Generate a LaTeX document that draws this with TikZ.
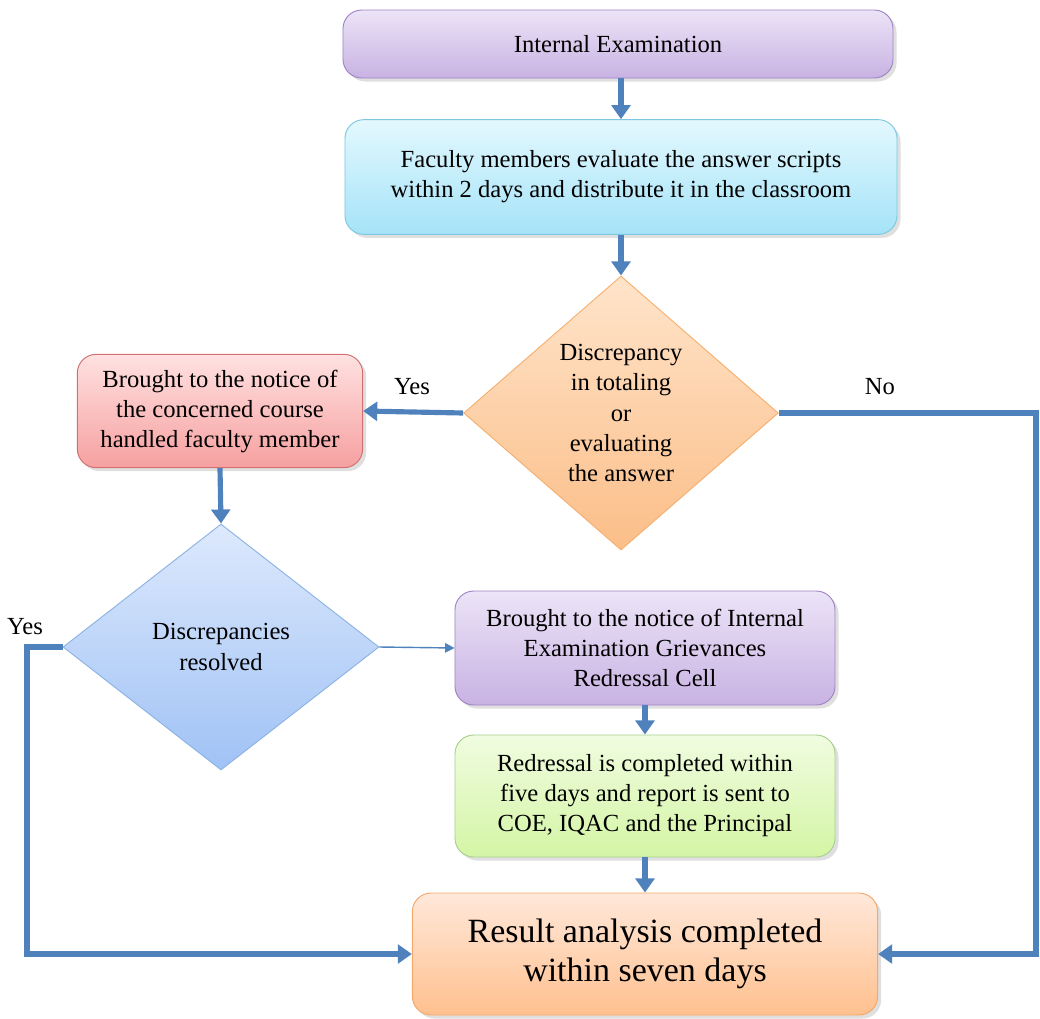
\documentclass[tikz,border=0pt]{standalone}
\usepackage{fontspec}
\setmainfont{Liberation Serif}
\newfontfamily\flowfont{Liberation Serif}
\usepackage{xcolor}
\definecolor{flowblue}{RGB}{ 79, 129, 189}
\definecolor{lilactop}{RGB}{236, 228, 247}
\definecolor{lilacbot}{RGB}{200, 178, 227}
\definecolor{lilacrim}{RGB}{160, 132, 196}
\definecolor{skytop}{RGB}{227, 248, 254}
\definecolor{skybot}{RGB}{165, 227, 248}
\definecolor{skyrim}{RGB}{124, 200, 224}
\definecolor{peachtop}{RGB}{255, 228, 202}
\definecolor{peachbot}{RGB}{251, 190, 136}
\definecolor{peachrim}{RGB}{245, 176, 112}
\definecolor{rosetop}{RGB}{255, 225, 225}
\definecolor{rosebot}{RGB}{246, 160, 160}
\definecolor{roserim}{RGB}{208, 112, 112}
\definecolor{icetop}{RGB}{221, 233, 253}
\definecolor{icebot}{RGB}{160, 194, 245}
\definecolor{icerim}{RGB}{141, 179, 226}
\definecolor{limetop}{RGB}{240, 252, 224}
\definecolor{limebot}{RGB}{212, 245, 165}
\definecolor{limerim}{RGB}{168, 208, 141}
\definecolor{apricottop}{RGB}{255, 232, 218}
\definecolor{apricotbot}{RGB}{255, 192, 142}
\definecolor{apricotrim}{RGB}{244, 168, 106}
\usepackage{tikz}
\usetikzlibrary{
  shapes.geometric, arrows.meta, positioning, shadows
}
\tikzset{
  stepbox/.style={rounded corners=8pt, align=center, inner sep=2pt,
    font=\flowfont\fontsize{10.5}{12.8}\selectfont,
    drop shadow={opacity=0.25, shadow xshift=1.5pt, shadow yshift=-1.5pt}},
  lilacbox/.style={stepbox, draw=lilacrim, top color=lilactop, bottom color=lilacbot},
  skybox/.style={stepbox, draw=skyrim, top color=skytop, bottom color=skybot},
  rosebox/.style={stepbox, draw=roserim, top color=rosetop, bottom color=rosebot},
  limebox/.style={stepbox, draw=limerim, top color=limetop, bottom color=limebot},
  resultbox/.style={stepbox, draw=apricotrim, top color=apricottop, bottom color=apricotbot,
    font=\flowfont\fontsize{14.5}{16.5}\selectfont},
  decision/.style={diamond, aspect=1, inner sep=0pt, align=center,
    font=\flowfont\fontsize{10.5}{13}\selectfont},
  mainarrow/.style={-{Triangle[width=8pt,length=6pt]}, line width=2.2pt, color=flowblue},
  thinarrow/.style={-{Triangle[width=4pt,length=4pt]}, line width=0.6pt, color=flowblue},
  answer/.style={font=\flowfont\fontsize{10.5}{12}\selectfont}
}
\begin{document}
\begin{tikzpicture}[x=0.015cm, y=-0.015cm]
  \useasboundingbox (0,0) rectangle (1040,1019);

  \node[lilacbox, minimum width=8.25cm, minimum height=1.02cm] (exam) at (618,44)
    {Internal Examination};

  \node[skybox, minimum width=8.28cm, minimum height=1.72cm] (faculty) at (621,177)
    {Faculty members evaluate the answer scripts\\
     within 2 days and distribute it in the classroom};

  \node[decision, draw=peachrim, top color=peachtop, bottom color=peachbot,
    minimum width=4.72cm, minimum height=4.11cm] (check) at (621,413)
    {Discrepancy\\in totaling\\or\\evaluating\\the answer};

  \node[rosebox, minimum width=4.28cm, minimum height=1.70cm] (notice) at (220,411)
    {Brought to the notice of\\the concerned course\\handled faculty member};

  \node[decision, draw=icerim, top color=icetop, bottom color=icebot,
    minimum width=4.74cm, minimum height=3.69cm] (resolved) at (221,647)
    {Discrepancies\\resolved};

  \node[lilacbox, minimum width=5.7cm, minimum height=1.71cm] (cell) at (645,648)
    {Brought to the notice of Internal\\Examination Grievances\\Redressal Cell};

  \node[limebox, minimum width=5.7cm, minimum height=1.83cm] (redress) at (645,796)
    {Redressal is completed within\\five days and report is sent to\\COE, IQAC and the Principal};

  \node[resultbox, minimum width=6.98cm, minimum height=1.83cm] (result) at (645,954)
    {Result analysis completed\\within seven days};

  \coordinate (noturn) at (1036,413);
  \coordinate (yesturn) at (27,647);

  % main flow
  \draw[mainarrow] (exam.south -| faculty.north) -- (faculty.north);
  \draw[mainarrow] (faculty.south) -- (check.north);
  \draw[mainarrow] (check.west) -- (notice.east);
  \draw[mainarrow] (notice.south) -- (resolved.north);
  \draw[thinarrow] (resolved.east) -- (cell.west);
  \draw[mainarrow] (cell.south) -- (redress.north);
  \draw[mainarrow] (redress.south) -- (result.north);

  % by-pass routes
  \draw[mainarrow] (check.east) -- (noturn) |- (result.east);
  \draw[mainarrow] (resolved.west) -- (yesturn) |- (result.west);

  \node[answer] (yesone) at (412,387) {Yes};
  \node[answer] (noone) at (880,387) {No};
  \node[answer] (yestwo) at (25,627) {Yes};

\end{tikzpicture}
\end{document}
